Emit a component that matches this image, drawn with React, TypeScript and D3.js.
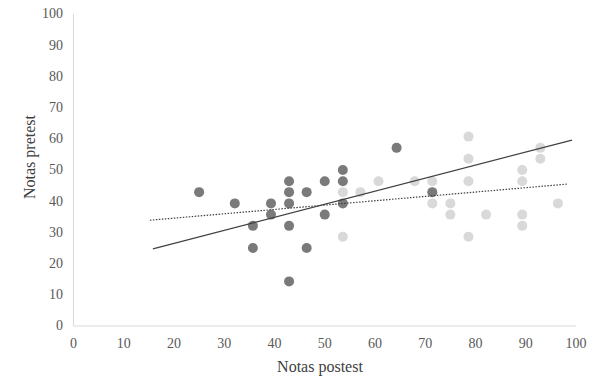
import React from "react";
import * as d3 from "d3";

const darkX = [25, 32.1, 35.7, 35.7, 39.3, 39.3, 42.9, 42.9, 42.9, 42.9, 42.9, 46.4, 46.4, 50, 50, 53.6, 53.6, 53.6, 64.3, 71.4];
const darkY = [42.9, 39.3, 32.1, 25, 39.3, 35.7, 46.4, 42.9, 39.3, 32.1, 14.3, 42.9, 25, 46.4, 35.7, 50, 46.4, 39.3, 57.1, 42.9];
const lightX = [53.6, 53.6, 57.1, 60.7, 67.9, 71.4, 71.4, 75, 75, 78.6, 78.6, 78.6, 78.6, 82.1, 89.3, 89.3, 89.3, 89.3, 92.9, 92.9, 96.4];
const lightY = [42.9, 28.6, 42.9, 46.4, 46.4, 46.4, 39.3, 39.3, 35.7, 60.7, 53.6, 46.4, 28.6, 35.7, 50, 46.4, 35.7, 32.1, 57.1, 53.6, 39.3];

const solidTrend = [[15.8, 24.7], [99.2, 59.6]];
const dottedTrend = [[15.2, 33.9], [98.4, 45.5]];

const ticks = [0, 10, 20, 30, 40, 50, 60, 70, 80, 90, 100];

export default function App() {
  const W = 600, H = 384;
  const x = d3.scaleLinear().domain([0, 100]).range([73.5, 576]);
  const y = d3.scaleLinear().domain([0, 100]).range([326, 14]);
  const line = d3.line<number[]>().x(d => x(d[0])).y(d => y(d[1]));
  const font = "'Liberation Serif', 'DejaVu Serif', serif";
  return (
    <svg width={W} height={H} style={{ position: "absolute", left: 0, top: 0, background: "#fff" }} fontFamily={font}>
      <line x1={x(0)} x2={x(0)} y1={y(0)} y2={y(100)} stroke="#d9d9d9" strokeWidth={1} />
      <line x1={x(0)} x2={x(100)} y1={y(0)} y2={y(0)} stroke="#d9d9d9" strokeWidth={1} />
      {ticks.map(t => (
        <text key={"y" + t} x={63} y={y(t)} dy="0.32em" textAnchor="end" fontSize={14} fill="#595959">{t}</text>
      ))}
      {ticks.map(t => (
        <text key={"x" + t} x={x(t)} y={344} dy="0.32em" textAnchor="middle" fontSize={14} fill="#595959">{t}</text>
      ))}
      <text x={320} y={366} dy="0.35em" textAnchor="middle" fontSize={16} fill="#404040">Notas postest</text>
      <text transform={`translate(29,157) rotate(-90)`} dy="0.35em" textAnchor="middle" fontSize={16} fill="#404040">Notas pretest</text>
      {lightX.map((v, i) => (
        <circle key={"l" + i} cx={x(v)} cy={y(lightY[i])} r={5} fill="#d9d9d9" />
      ))}
      {darkX.map((v, i) => (
        <circle key={"d" + i} cx={x(v)} cy={y(darkY[i])} r={5} fill="#7a7a7a" />
      ))}
      <path d={line(solidTrend) || ""} stroke="#404040" strokeWidth={1.2} fill="none" />
      <path d={line(dottedTrend) || ""} stroke="#404040" strokeWidth={1.2} strokeDasharray="1.5 1.5" fill="none" />
    </svg>
  );
}
